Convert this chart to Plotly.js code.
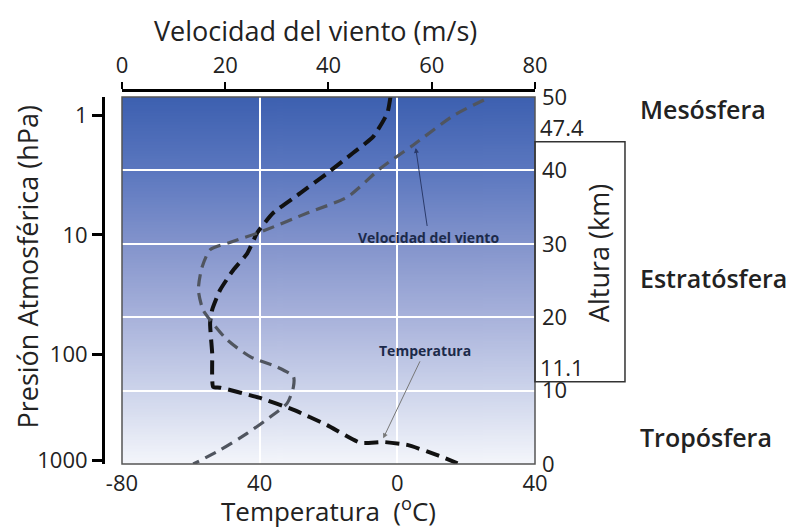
<!DOCTYPE html>
<html>
<head>
<meta charset="utf-8">
<script src="https://cdn.plot.ly/plotly-3.0.1.min.js"></script>
<style>html,body{margin:0;padding:0;background:#fff;}#chart{width:796px;height:529px;}</style>
</head>
<body>
<div id="chart"></div>
<script>
// ---- data ----
const tempC   = [-2.0,-2.9,-7.0,-12.8,-20.4,-28.2,-36.1,-40.7,-43.6,-47.7,-51.5,-53.8,-54.4,-53.8,-53.5,-51.5,-39.9,-30.3,-20.4,-10.8,-4.1,2.9,11.6,17.5];
const tempAlt = [50,47.8,44.6,42.4,39.6,36.9,34.2,31.5,28.7,26.4,23.7,21.0,19.2,15.1,10.5,10.4,9.0,7.4,5.3,2.9,3.0,2.6,1.2,0.1];

const windSpeed = [70.1,64.3,56.5,50.1,43.7,35.9,26.8,21.0,17.1,15.5,14.8,15.7,17.1,20.4,24.9,30.1,33.2,33.2,32.0,28.7,24.3,19.0,13.8];
const windAlt   = [49.6,47.5,43.5,40.3,36.4,34.2,31.6,30.2,29.2,26.8,23.7,21.0,19.6,16.9,14.6,13.2,11.9,10.5,8.3,6.4,4.2,1.9,0];

const tempTicks      = [-80,-40,0,40];
const tempTickText   = ["-80","40","0","40"];
const windTicks      = [0,20,40,60,80];
const altTicks       = [0,10,20,30,40,50];
const pressureLevels = ["1","10","100","1000"];
const pressureAltKm  = [47.5,31.2,14.9,0.5];

const layerNames = ["Mesósfera","Estratósfera","Tropósfera"];
const layerLabelAlt = [48.4,25.4,3.7];
const boundaryText = ["47.4","11.1"];
const boundaryLineKm = [43.9,11.2];

const windLabelPoint = {speed:56.9, alt:43.05};
const tempLabelPoint = {temp:-4.1, alt:3.5};

// ---- gradient background image ----
function gradientURL(){
  const c=document.createElement('canvas'); c.width=4; c.height=256;
  const g=c.getContext('2d');
  const lg=g.createLinearGradient(0,0,0,256);
  lg.addColorStop(0,'#3d60b0');
  lg.addColorStop(0.2,'#5b77bf');
  lg.addColorStop(0.4,'#8394cc');
  lg.addColorStop(0.6,'#a8b2db');
  lg.addColorStop(0.8,'#cdd4eb');
  lg.addColorStop(1,'#f4f6fb');
  g.fillStyle=lg; g.fillRect(0,0,4,256);
  return c.toDataURL('image/png');
}

const FONT = 'Open Sans, sans-serif';
const TXT = '#222';

const traces = [
  {x: windSpeed, y: windAlt, xaxis:'x2', yaxis:'y', mode:'lines', type:'scatter',
   line:{color:'#50555f', width:3.2, dash:'12px,7px', shape:'spline', smoothing:0.7},
   hoverinfo:'skip', showlegend:false},
  {x: tempC, y: tempAlt, xaxis:'x', yaxis:'y', mode:'lines', type:'scatter',
   line:{color:'#111', width:4, dash:'14px,7px', shape:'spline', smoothing:0.5},
   hoverinfo:'skip', showlegend:false},
  // carrier trace so that the pressure axis is drawn
  {x: [], y: [], xaxis:'x', yaxis:'y2', mode:'markers', type:'scatter',
   hoverinfo:'skip', showlegend:false}
];

const annotations = [];
layerNames.forEach((n,i)=>annotations.push({
  text:n, xref:'paper', yref:'y', x:1.2384, y:layerLabelAlt[i], xanchor:'left', yanchor:'middle',
  showarrow:false, font:{family:FONT, size:25, color:TXT, weight:600}
}));
boundaryText.forEach((t,i)=>annotations.push({
  text:t, xref:'paper', yref:'y', x:1, xshift:4, y:boundaryLineKm[i], xanchor:'left', yanchor:'bottom',
  showarrow:false, font:{family:FONT, size:22, color:TXT}, borderpad:0, yshift:-1
}));
annotations.push({
  text:'Velocidad del viento', xref:'x2', yref:'y', x:windLabelPoint.speed, y:windLabelPoint.alt,
  ax:13, ay:89, showarrow:true, arrowhead:2, arrowsize:1, arrowwidth:1, arrowcolor:'#2a3a6a',
  font:{family:FONT, size:14, color:'#1c2a4a', weight:700}
});
annotations.push({
  text:'Temperatura', xref:'x', yref:'y', x:tempLabelPoint.temp, y:tempLabelPoint.alt,
  ax:42, ay:-88, showarrow:true, arrowhead:2, arrowsize:1, arrowwidth:1, arrowcolor:'#777',
  font:{family:FONT, size:14, color:'#1c2a4a', weight:700}
});
annotations.push({
  text:'Presión Atmosférica (hPa)', xref:'paper', yref:'paper', x:-0.1736, y:0.528,
  xanchor:'center', yanchor:'middle',
  textangle:-90, showarrow:false, font:{family:FONT, size:27, color:TXT}
});
annotations.push({
  text:'Altura (km)', xref:'paper', yref:'paper', x:1.146, y:0.564,
  xanchor:'center', yanchor:'middle',
  textangle:-90, showarrow:false, font:{family:FONT, size:27, color:TXT}
});
annotations.push({
  text:'Velocidad del viento (m/s)', xref:'paper', yref:'paper', x:0.4913, y:1.160,
  xanchor:'center', yanchor:'middle', showarrow:false, font:{family:FONT, size:27, color:TXT}
});

const layout = {
  width:796, height:529,
  margin:{l:103, r:261, t:90, b:65},
  paper_bgcolor:'#fff', plot_bgcolor:'rgba(0,0,0,0)',
  font:{family:FONT, color:TXT},
  showlegend:false,
  xaxis:{domain:[0.04398,1], range:[-80,40], anchor:'y', side:'bottom',
    tickmode:'array', tickvals:tempTicks, ticktext:tempTickText,
    showgrid:true, gridcolor:'#fff', gridwidth:2, zeroline:false, showline:false,
    ticks:'', ticklabelstandoff:4, tickfont:{family:FONT, size:22, color:TXT},
    title:{text:'Temperatura  (<sup>o</sup>C)', font:{family:FONT, size:26, color:TXT}, standoff:0}},
  xaxis2:{overlaying:'x', side:'top', anchor:'free', position:1, range:[0,80],
    tickmode:'array', tickvals:windTicks, showgrid:false, zeroline:false,
    showline:true, linecolor:'#000', linewidth:3,
    ticks:'outside', ticklen:7, tickwidth:2, tickcolor:'#000',
    tickfont:{family:FONT, size:22, color:TXT}},
  yaxis:{domain:[0,0.98128], range:[0,50], side:'right', anchor:'x',
    tickmode:'array', tickvals:altTicks, showgrid:true, gridcolor:'#fff', gridwidth:2,
    zeroline:false, showline:false, ticks:'', ticklabelstandoff:6,
    tickfont:{family:FONT, size:22, color:TXT}},
  yaxis2:{overlaying:'y', side:'left', anchor:'free', position:0, range:[0,50],
    tickmode:'array', tickvals:pressureAltKm, ticktext:pressureLevels,
    showgrid:false, zeroline:false, showline:true, linecolor:'#000', linewidth:3,
    ticks:'outside', ticklen:10, tickwidth:3, tickcolor:'#000',
    tickfont:{family:FONT, size:22, color:TXT}},
  images:[{source:gradientURL(), xref:'x domain', yref:'y domain', x:0, y:1, sizex:1, sizey:1,
    xanchor:'left', yanchor:'top', sizing:'stretch', layer:'below'}],
  shapes:[
    {type:'rect', xref:'x domain', yref:'y domain', x0:0, x1:1, y0:0, y1:1,
     line:{color:'#555', width:1.5}, layer:'above'},
    {type:'rect', xref:'paper', yref:'y', x0:1, x1:1.2083, y0:boundaryLineKm[1], y1:boundaryLineKm[0],
     line:{color:'#333', width:1.5}, layer:'above'}
  ],
  annotations:annotations
};

Plotly.newPlot('chart', traces, layout, {staticPlot:true, displayModeBar:false});
</script>
</body>
</html>
